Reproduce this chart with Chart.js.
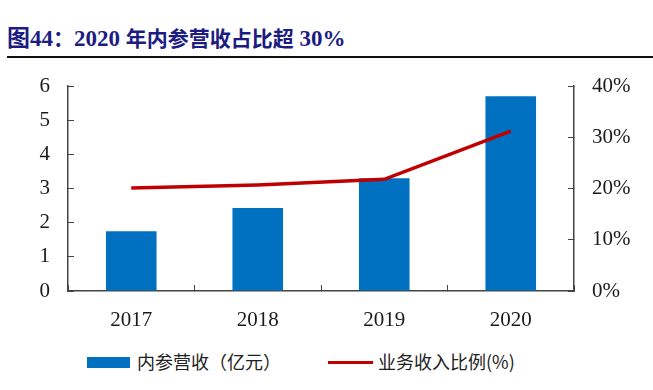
<!DOCTYPE html>
<html>
<head>
<meta charset="utf-8">
<script src="https://cdn.jsdelivr.net/npm/chart.js@4.4.1/dist/chart.umd.min.js"></script>
<style>
    html, body { margin: 0; padding: 0; background: #fff; }
    body { width: 653px; height: 390px; position: relative; overflow: hidden; }
    #title {
        position: absolute; left: 7px; top: 19px;
        font-family: "Liberation Serif", "Noto Sans CJK SC", serif;
        font-weight: bold; font-size: 23px; color: #1c1c82; white-space: nowrap;
    }
    #title .cjk { font-family: "Noto Sans CJK SC", sans-serif; font-size: 21px; }
    #rule { position: absolute; left: 7px; right: 0; top: 56px; height: 2px; background: #111; }
    #wrap { position: absolute; left: 0; top: 0; width: 653px; height: 345px; }
    #legend {
        position: absolute; top: 350px; left: 87px; height: 22px;
        font-family: "Noto Sans CJK SC", sans-serif; font-size: 18px; color: #222;
        white-space: nowrap;
    }
    .item { position: absolute; top: 0; line-height: 22px; }
    .swatch { position: absolute; }
</style>
</head>
<body>
<div id="title">图44<span class="cjk">：</span>2020 <span class="cjk">年内参营收占比超</span> 30%</div>
<div id="rule"></div>
<div id="wrap"><canvas id="mainChart"></canvas></div>
<div id="legend"></div>

<script>
// Chart data
const years = ['2017', '2018', '2019', '2020'];
const revenue = [1.75, 2.43, 3.30, 5.70];      // 内参营收（亿元）
const revenueShare = [20.1, 20.7, 21.8, 31.2]; // 业务收入比例(%)
const seriesNames = ['内参营收（亿元）', '业务收入比例(%)'];

const blue = '#0070c0';
const red = '#c00000';
const axisColor = '#444';

const tickFont = { family: 'Liberation Serif', size: 21 };

const ctx = document.getElementById('mainChart').getContext('2d');
window.mainChart = new Chart(ctx, {
    data: {
        labels: years,
        datasets: [
            {
                type: 'line',
                label: seriesNames[1],
                data: revenueShare,
                yAxisID: 'y1',
                borderColor: red,
                borderWidth: 3.5,
                pointRadius: 0,
                tension: 0,
                order: 0
            },
            {
                type: 'bar',
                label: seriesNames[0],
                data: revenue,
                yAxisID: 'y',
                backgroundColor: blue,
                categoryPercentage: 0.4,
                barPercentage: 1,
                order: 1
            }
        ]
    },
    options: {
        responsive: true,
        maintainAspectRatio: false,
        animation: false,
        layout: { padding: { top: 86, left: 0, right: 0, bottom: 0 } },
        plugins: {
            legend: { display: false },
            tooltip: { enabled: false }
        },
        scales: {
            x: {
                grid: { drawOnChartArea: false, color: axisColor, tickLength: -6, offset: true },
                border: { color: axisColor, width: 1.5 },
                ticks: { font: tickFont, color: '#1a1a1a', padding: 23 },
                afterFit: function(s) { s.height = 54; }
            },
            y: {
                position: 'left',
                min: 0, max: 6,
                grid: { drawOnChartArea: false, color: axisColor, tickLength: -6 },
                border: { color: axisColor, width: 1.5 },
                ticks: { stepSize: 1, font: tickFont, color: '#1a1a1a', padding: 24 },
                afterFit: function(s) { s.width = 68; }
            },
            y1: {
                position: 'right',
                min: 0, max: 40,
                grid: { drawOnChartArea: false, color: axisColor, tickLength: -6 },
                border: { color: axisColor, width: 1.5 },
                ticks: {
                    stepSize: 10, font: tickFont, color: '#1a1a1a', padding: 24,
                    callback: function(value) { return value + '%'; }
                },
                afterFit: function(s) { s.width = 79; }
            }
        }
    }
});

// HTML legend
const legend = document.getElementById('legend');
legend.innerHTML =
    '<div class="swatch" style="left:0;top:7px;width:43px;height:11px;background:' + blue + '"></div>' +
    '<div class="item" style="left:50px">' + seriesNames[0] + '</div>' +
    '<div class="swatch" style="left:241px;top:11px;width:45px;height:3px;background:' + red + '"></div>' +
    '<div class="item" style="left:291px">' + seriesNames[1] + '</div>';
</script>
</body>
</html>
